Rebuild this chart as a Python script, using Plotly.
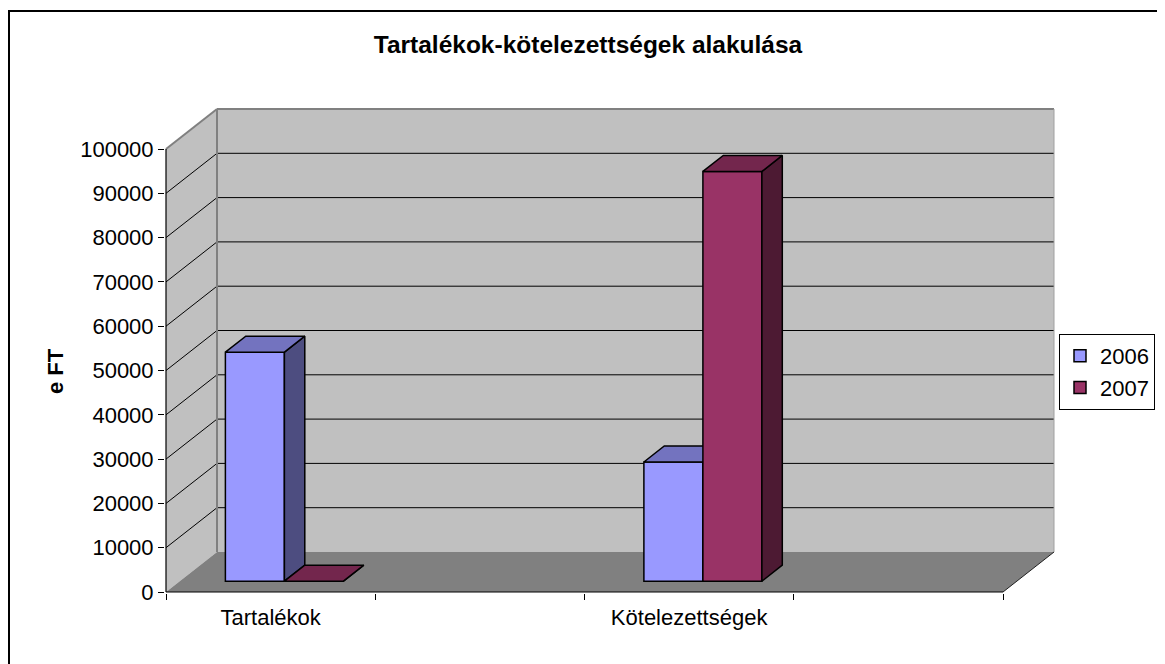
import plotly.graph_objects as go

# ---------------- data ----------------
categories = ["Tartalékok", "Kötelezettségek"]
series_names = ["2006", "2007"]
values_2006 = [51700, 26900]
values_2007 = [0, 92500]
y_tick_values = [0, 10000, 20000, 30000, 40000, 50000, 60000, 70000, 80000, 90000, 100000]
chart_title = "Tartalékok-kötelezettségek alakulása"
y_title = "e FT"

# ---------------- style / geometry constants ----------------
FONT = "Liberation Sans, Arial, sans-serif"
W, H = 1165, 664
OFF = 8                                              # page body margin
PLOT_L, PLOT_R, PLOT_T, PLOT_B = 165, 1056, 106, 593   # plot area (page pixels)
PX_PER_UNIT = 209.25            # category-slot width in pixels
VAL_PER_PX = 100000 / 443.0     # value units per pixel
SLOTS = 4                       # category axis slots
CAT_POS = [0.5, 2.5]
DX = 51 / PX_PER_UNIT           # depth shift (x, in slot units)
DY = 40 * VAL_PER_PX            # depth shift (y, in value units)
F = 0.27                        # depth position of bar front
D = 0.40                        # bar depth fraction
BAR_W = 0.282
YMAX = 100000

X_RANGE = [-(166 - PLOT_L) / PX_PER_UNIT, (PLOT_R - 166) / PX_PER_UNIT]
Y_RANGE = [-(PLOT_B - 592) * VAL_PER_PX, (592 - PLOT_T) * VAL_PER_PX]

front_col = {"2006": "#9999FF", "2007": "#993366"}
top_col = {"2006": "#7373BF", "2007": "#73264D"}
side_col = {"2006": "#4D4D80", "2007": "#4D1A33"}

series_values = {"2006": values_2006, "2007": values_2007}

fig = go.Figure()

for i, name in enumerate(series_names):
    vals = series_values[name]
    xa = "x" if i == 0 else "x2"
    ya = "y" if i == 0 else "y2"
    base = F * DY
    lefts = [c + F * DX - BAR_W + i * BAR_W for c in CAT_POS]
    centers = [l + BAR_W / 2 for l in lefts]
    fig.add_trace(go.Bar(
        x=centers, y=vals, base=[base] * len(vals), width=BAR_W,
        marker=dict(color=front_col[name], line=dict(color="black", width=1.5)),
        name=name, xaxis=xa, yaxis=ya, legendgroup=name, showlegend=True,
        hoverinfo="skip",
    ))
    sx, sy, tx, ty = [], [], [], []
    for l, v in zip(lefts, vals):
        r = l + BAR_W
        sx += [r, r + D * DX, r + D * DX, r, r, None]
        sy += [base, base + D * DY, base + D * DY + v, base + v, base, None]
        tx += [l, r, r + D * DX, l + D * DX, l, None]
        ty += [base + v, base + v, base + D * DY + v, base + D * DY + v, base + v, None]
    fig.add_trace(go.Scatter(x=sx, y=sy, mode="lines", fill="toself",
                             fillcolor=side_col[name], line=dict(color="black", width=1.5),
                             xaxis=xa, yaxis=ya, showlegend=False, hoverinfo="skip"))
    fig.add_trace(go.Scatter(x=tx, y=ty, mode="lines", fill="toself",
                             fillcolor=top_col[name], line=dict(color="black", width=1.5),
                             xaxis=xa, yaxis=ya, showlegend=False, hoverinfo="skip"))

# ---------------- walls, floor, gridlines (shapes below traces) ----------------
shapes = []
XE = SLOTS
shapes.append(dict(type="rect", xref="x", yref="y", x0=DX, x1=XE + DX, y0=DY, y1=YMAX + DY,
                   fillcolor="#C0C0C0", line=dict(width=0), layer="below"))
shapes.append(dict(type="path", xref="x", yref="y",
                   path=f"M0,0 L{DX},{DY} L{DX},{YMAX + DY} L0,{YMAX} Z",
                   fillcolor="#C0C0C0", line=dict(width=0), layer="below"))
shapes.append(dict(type="path", xref="x", yref="y",
                   path=f"M0,0 L{XE},0 L{XE + DX},{DY} L{DX},{DY} Z",
                   fillcolor="#808080", line=dict(width=0), layer="below"))
for v in y_tick_values[1:-1]:
    shapes.append(dict(type="line", xref="x", yref="y", x0=0, y0=v, x1=DX, y1=v + DY,
                       line=dict(color="black", width=1), layer="below"))
    shapes.append(dict(type="line", xref="x", yref="y", x0=DX, y0=v + DY, x1=XE + DX, y1=v + DY,
                       line=dict(color="black", width=1), layer="below"))
edge = dict(color="#808080", width=2)
shapes.append(dict(type="line", xref="x", yref="y", x0=DX, y0=YMAX + DY, x1=XE + DX, y1=YMAX + DY,
                   line=edge, layer="below"))
shapes.append(dict(type="line", xref="x", yref="y", x0=DX, y0=DY, x1=DX, y1=YMAX + DY,
                   line=edge, layer="below"))
shapes.append(dict(type="line", xref="x", yref="y", x0=0, y0=YMAX, x1=DX, y1=YMAX + DY,
                   line=edge, layer="below"))
shapes.append(dict(type="line", xref="x", yref="y", x0=XE + DX, y0=DY, x1=XE + DX, y1=YMAX + DY,
                   line=dict(color="#A0A0A0", width=1), layer="below"))
shapes.append(dict(type="line", xref="x", yref="y", x0=XE, y0=0, x1=XE + DX, y1=DY,
                   line=dict(color="#202020", width=1), layer="below"))
shapes.append(dict(type="line", xref="x", yref="y", x0=0, y0=0, x1=XE, y1=0,
                   line=dict(color="black", width=1.2), layer="below"))
shapes.append(dict(type="line", xref="x", yref="y", x0=0, y0=0, x1=0, y1=YMAX,
                   line=dict(color="black", width=1.2), layer="below"))

pw = PLOT_R - PLOT_L
ph = PLOT_B - PLOT_T
shapes.append(dict(type="rect", xref="paper", yref="paper",
                   x0=(9 - PLOT_L) / pw, x1=(1190 - PLOT_L) / pw,
                   y0=(PLOT_B - 690) / ph, y1=(PLOT_B - 11) / ph,
                   line=dict(color="black", width=2), fillcolor="rgba(0,0,0,0)", layer="above"))

fig.update_layout(
    width=W, height=H,
    margin=dict(l=PLOT_L - OFF, r=W - (PLOT_R - OFF), t=PLOT_T - OFF, b=H - (PLOT_B - OFF),
                autoexpand=False),
    paper_bgcolor="white", plot_bgcolor="white",
    font=dict(family=FONT, size=22, color="black"),
    title=dict(text=f"<b>{chart_title}</b>", x=(588 - OFF) / W, xanchor="center",
               y=1 - (44 - OFF) / H, yanchor="middle", yref="container",
               font=dict(family=FONT, size=24.5, color="black")),
    shapes=shapes,
    showlegend=True,
    legend=dict(x=(1059 - PLOT_L) / pw, y=(PLOT_B - 372) / ph, xanchor="left", yanchor="middle",
                bgcolor="white", bordercolor="black", borderwidth=1,
                font=dict(family=FONT, size=22, color="black"),
                traceorder="normal", tracegroupgap=6, itemwidth=30),
    xaxis=dict(range=X_RANGE, tickvals=CAT_POS, ticktext=categories, ticks="",
               ticklabelstandoff=9,
               showgrid=False, zeroline=False, showline=False, fixedrange=True,
               tickfont=dict(family=FONT, size=22, color="black")),
    xaxis2=dict(range=X_RANGE, overlaying="x", anchor="y2", side="bottom",
                tickvals=list(range(SLOTS + 1)), ticks="outside", ticklen=6,
                tickcolor="black", tickwidth=1, showticklabels=False,
                showgrid=False, zeroline=False, showline=False, fixedrange=True),
    yaxis=dict(range=Y_RANGE, tickvals=y_tick_values, tickformat="d", ticks="outside",
               ticklen=6, tickcolor="black", tickwidth=1,
               showgrid=False, zeroline=False, showline=False, fixedrange=True,
               tickfont=dict(family=FONT, size=22, color="black")),
    yaxis2=dict(range=Y_RANGE, overlaying="y", showticklabels=False, ticks="",
                showgrid=False, zeroline=False, showline=False, fixedrange=True),
    annotations=[dict(text=f"<b>{y_title}</b>", xref="paper", yref="paper",
                      x=(55 - PLOT_L) / pw, y=(PLOT_B - 371) / ph, textangle=-90,
                      showarrow=False, xanchor="center", yanchor="middle",
                      font=dict(family=FONT, size=22, color="black"))],
)

fig.write_html("out.html")
